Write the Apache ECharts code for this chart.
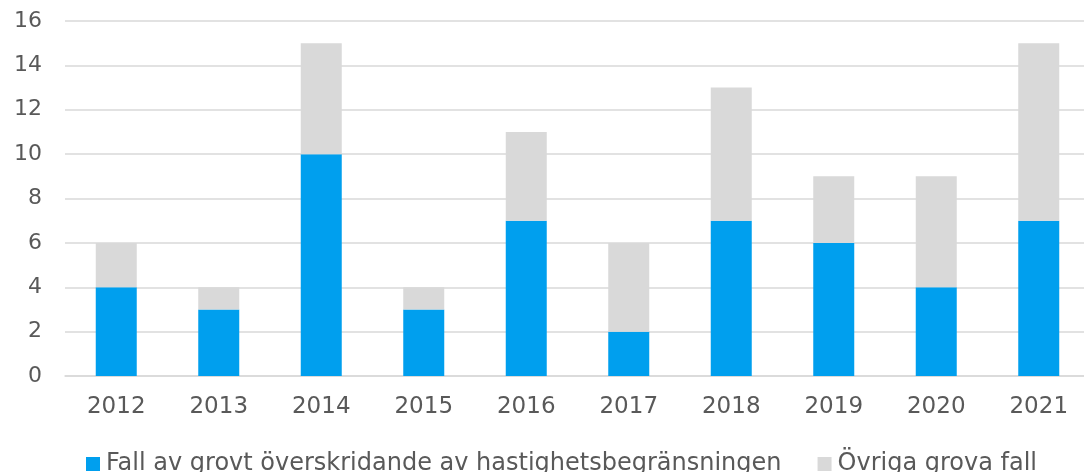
<!DOCTYPE html>
<html>
<head>
<meta charset="utf-8">
<script src="https://cdn.jsdelivr.net/npm/echarts@6/dist/echarts.min.js"></script>
<style>
  html, body { margin: 0; padding: 0; background: #fff; }
  #charts { width: 1084px; height: 472px; }
</style>
</head>
<body>
<div id="charts"></div>
<script>
var years = ['2012', '2013', '2014', '2015', '2016', '2017', '2018', '2019', '2020', '2021'];
var speeding = [4, 3, 10, 3, 7, 2, 7, 6, 4, 7];
var other = [2, 1, 5, 1, 4, 4, 6, 3, 5, 8];
var seriesNames = ['Fall av grovt överskridande av hastighetsbegränsningen', 'Övriga grova fall'];

var myChart = echarts.init(document.getElementById('charts'));

var textColor = '#595959';
var font = 'DejaVu Sans';

var option = {
    animation: false,
    textStyle: { fontFamily: font },
    grid: {
        left: 65,
        top: 21,
        right: -6,
        height: 355,
        outerBoundsMode: 'none'
    },
    legend: {
        left: 86,
        top: 452,
        padding: 0,
        itemWidth: 14,
        itemHeight: 14,
        itemGap: 36,
        icon: 'rect',
        textStyle: { fontFamily: font, fontSize: 24, color: textColor, padding: [0, 0, 0, 1] },
        data: seriesNames
    },
    xAxis: {
        type: 'category',
        data: years,
        axisLine: { show: true, lineStyle: { color: '#d9d9d9', width: 1.5 } },
        axisTick: { show: false },
        axisLabel: { color: textColor, fontSize: 23, fontFamily: font, margin: 20 }
    },
    yAxis: {
        type: 'value',
        min: 0,
        max: 16,
        interval: 2,
        axisLine: { show: false },
        axisTick: { show: false },
        splitLine: { lineStyle: { color: '#d9d9d9', width: 1.5 } },
        axisLabel: { color: textColor, fontSize: 22, fontFamily: font, margin: 23 }
    },
    series: [
        {
            name: seriesNames[0],
            type: 'bar',
            stack: 'total',
            barWidth: 41,
            itemStyle: { color: '#009fee' },
            data: speeding
        },
        {
            name: seriesNames[1],
            type: 'bar',
            stack: 'total',
            barWidth: 41,
            itemStyle: { color: '#d9d9d9' },
            data: other
        }
    ]
};
myChart.setOption(option);
</script>
</body>
</html>
